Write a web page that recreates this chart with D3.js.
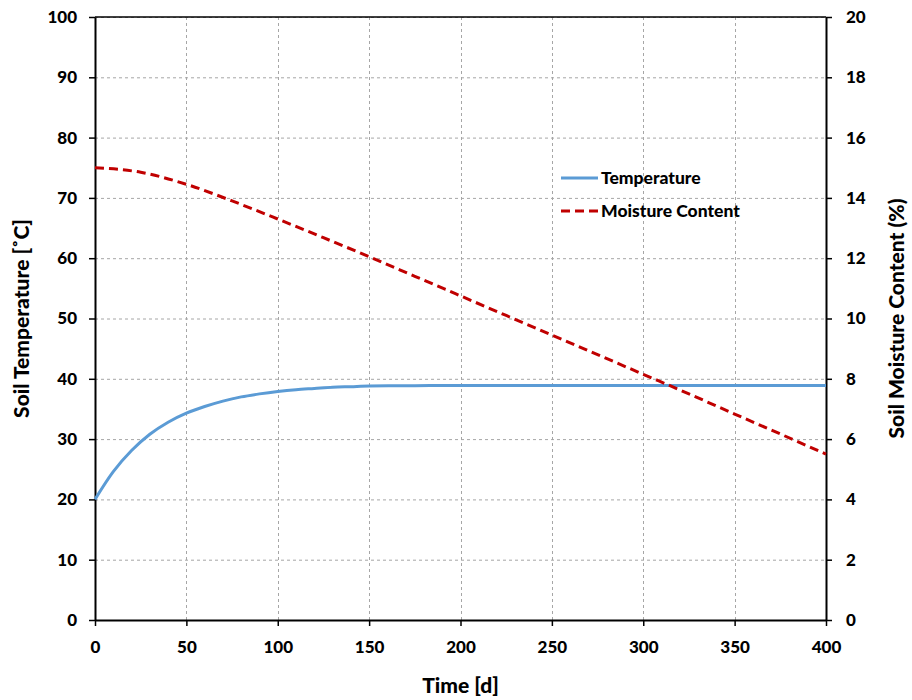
<!DOCTYPE html>
<html><head><meta charset="utf-8">
<script src="https://cdn.jsdelivr.net/npm/d3@7"></script>
<style>body{margin:0;background:#fff}svg{display:block}text{font-family:Lato,"Open Sans",sans-serif;font-weight:900;fill:#000}</style>
</head><body>
<script>
const timeTemp = [0,10,20,30,40,50,60,70,80,90,100,110,120,130,140,150,175,200,250,300,350,400];
const temperature = [20,24.6,28.1,30.8,32.8,34.3,35.4,36.3,37.0,37.5,37.9,38.2,38.4,38.6,38.7,38.8,38.85,38.9,38.9,38.9,38.9,38.9];
const timeMoist = [0,25,50,75,100,125,150,175,200,225,250,275,300,325,350,375,400];
const moisture = [15.0,14.85,14.45,13.9,13.3,12.68,12.05,11.4,10.75,10.1,9.45,8.8,8.15,7.5,6.83,6.17,5.5];
const xTicks = [0,50,100,150,200,250,300,350,400];
const yLeftTicks = [0,10,20,30,40,50,60,70,80,90,100];
const yRightTicks = [0,2,4,6,8,10,12,14,16,18,20];
const legendLabels = ["Temperature","Moisture Content"];

const W=912,H=700, L=95, R=826, T=17, B=620;
const svg=d3.select("body").append("svg").attr("width",W).attr("height",H);
const x=d3.scaleLinear().domain([0,400]).range([L,R]);
const yL=d3.scaleLinear().domain([0,100]).range([B,T]);
const yR=d3.scaleLinear().domain([0,20]).range([B,T]);

// grid
const g=svg.append("g");
g.selectAll(".hg").data(yLeftTicks.slice(1)).join("line")
 .attr("x1",L).attr("x2",R).attr("y1",d=>yL(d)+0.5).attr("y2",d=>yL(d)+0.5)
 .attr("stroke","#a6a6a6").attr("stroke-dasharray","3,3");
g.selectAll(".vg").data(xTicks.slice(1,-1)).join("line")
 .attr("y1",T).attr("y2",B).attr("x1",d=>Math.round(x(d))+0.5).attr("x2",d=>Math.round(x(d))+0.5)
 .attr("stroke","#a6a6a6").attr("stroke-dasharray","3,3");
// top border
svg.append("line").attr("x1",L).attr("x2",R).attr("y1",T).attr("y2",T).attr("stroke","#000").attr("stroke-width",1.5);

function styleAxis(sel){
  sel.select(".domain").attr("stroke","#000").attr("stroke-width",2);
  sel.selectAll(".tick line").attr("stroke","#000").attr("stroke-width",1.5);
  sel.selectAll(".tick text").attr("font-size","17px").attr("font-family","Lato, sans-serif").attr("font-weight","900").attr("fill","#000");
}
const ax=svg.append("g").attr("transform",`translate(0,${B})`)
 .call(d3.axisBottom(x).tickValues(xTicks).tickSize(6).tickSizeOuter(0).tickPadding(15));
styleAxis(ax);
const al=svg.append("g").attr("transform",`translate(${L},0)`)
 .call(d3.axisLeft(yL).tickValues(yLeftTicks).tickSize(6).tickSizeOuter(0).tickPadding(12));
styleAxis(al);
const ar=svg.append("g").attr("transform",`translate(${R},0)`)
 .call(d3.axisRight(yR).tickValues(yRightTicks).tickSize(6).tickSizeOuter(0).tickPadding(14));
styleAxis(ar);

// lines
const tempLine=d3.line().x((d,i)=>x(timeTemp[i])).y(d=>yL(d)).curve(d3.curveMonotoneX);
svg.append("path").datum(temperature).attr("d",tempLine).attr("fill","none")
 .attr("stroke","#5b9bd5").attr("stroke-width",3);
const moistLine=d3.line().x((d,i)=>x(timeMoist[i])).y(d=>yR(d)).curve(d3.curveMonotoneX);
svg.append("path").datum(moisture).attr("d",moistLine).attr("fill","none")
 .attr("stroke","#c00000").attr("stroke-width",3).attr("stroke-dasharray","9,5");

// legend
const leg=svg.append("g");
const ly=[178,211];
leg.append("line").attr("x1",561).attr("x2",598).attr("y1",ly[0]).attr("y2",ly[0]).attr("stroke","#5b9bd5").attr("stroke-width",3);
leg.append("line").attr("x1",561).attr("x2",598).attr("y1",ly[1]).attr("y2",ly[1]).attr("stroke","#c00000").attr("stroke-width",3).attr("stroke-dasharray","9,5");
leg.selectAll("text").data(legendLabels).join("text").attr("x",601).attr("y",(d,i)=>ly[i]).attr("dy","0.35em")
 .attr("font-size","17.5px").text(d=>d);

// axis titles
svg.append("text").attr("x",(L+R)/2).attr("y",686).attr("dy","0.35em").attr("text-anchor","middle").attr("font-size","21px").text("Time [d]");
svg.append("text").attr("transform",`translate(22,${(T+B)/2}) rotate(-90)`).attr("dy","0.35em").attr("text-anchor","middle").attr("font-size","21px").text("Soil Temperature [˚C]");
svg.append("text").attr("transform",`translate(897,${(T+B)/2}) rotate(-90)`).attr("dy","0.35em").attr("text-anchor","middle").attr("font-size","21px").text("Soil Moisture Content (%)");
</script>
</body></html>
